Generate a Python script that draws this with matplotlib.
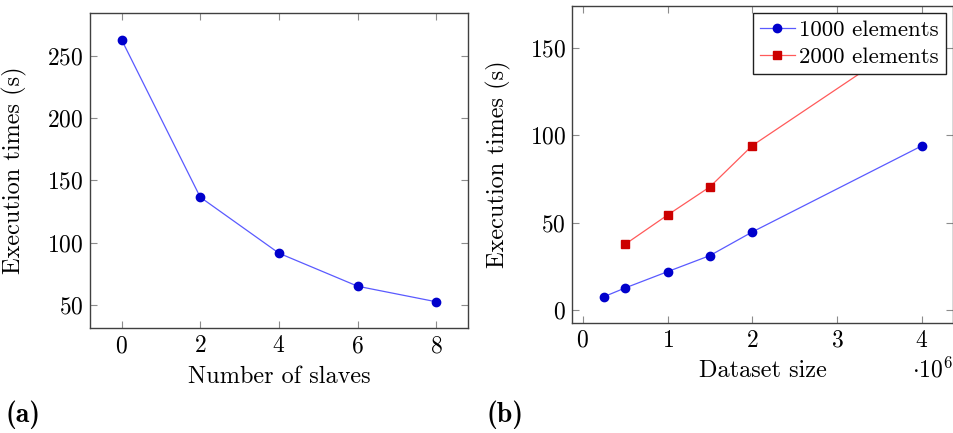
import numpy as np
import matplotlib.pyplot as plt

# Data
##############################
slaves = [0, 2, 4, 6, 8]
times_slaves = [263, 136.5, 91.5, 65, 52.5]

size_1000 = [0.25e6, 0.5e6, 1e6, 1.5e6, 2e6, 4e6]
times_1000 = [7.6, 12.6, 21.9, 31.1, 44.6, 93.8]
size_2000 = [0.5e6, 1e6, 1.5e6, 2e6, 4e6]
times_2000 = [37.6, 54.3, 70.4, 94.0, 159]

plt.rcParams.update({'font.family': 'cmr10', 'mathtext.fontset': 'cm',
                     'axes.formatter.use_mathtext': True, 'font.size': 16.5})

fig = plt.figure(figsize=(9.54, 4.33), dpi=100)
W, H = 954, 433
ax1 = fig.add_axes([90 / W, (H - 328) / H, 378 / W, 315 / H])
ax2 = fig.add_axes([572.3 / W, (H - 322.7) / H, 381 / W, 316.7 / H])

for ax in (ax1, ax2):
    ax.tick_params(direction='in', top=True, right=True, length=4.8, width=0.8,
                   color='#8c8c8c', labelsize=17, pad=5)
    ax.tick_params(axis='y', pad=4.5)
    for s in ax.spines.values():
        s.set_color('#404040')
        s.set_linewidth(1.0)

# (a) number of slaves
ax1.plot(slaves, times_slaves, '-', color='#5a5aff', lw=0.9, zorder=2)
ax1.plot(slaves, times_slaves, 'o', color='#0000cc', ms=6, zorder=3)
ax1.set_xlim(-0.8, 8.8)
ax1.set_ylim(31.5, 284.3)
ax1.set_xticks([0, 2, 4, 6, 8])
ax1.set_yticks([50, 100, 150, 200, 250])
ax1.set_xlabel('Number of slaves', fontsize=17.5, labelpad=6)
ax1.set_ylabel('Execution times (s)', fontsize=17.5)
ax1.yaxis.set_label_coords(-0.166, 0.5)

# (b) dataset size
x1 = np.array(size_1000) / 1e6
x2 = np.array(size_2000) / 1e6
ax2.plot(x1, times_1000, '-', color='#5a5aff', lw=0.9, zorder=2)
ax2.plot(x1, times_1000, 'o', color='#0000cc', ms=6, zorder=3)
ax2.plot(x2, times_2000, '-', color='#ff5a5a', lw=0.9, zorder=2)
ax2.plot(x2, times_2000, 's', color='#cc0000', ms=5.6, zorder=3)
ax2.set_xlim(-0.125, 4.375)
ax2.set_ylim(-7.3, 173.9)
ax2.set_xticks([0, 1, 2, 3, 4])
ax2.set_yticks([0, 50, 100, 150])
ax2.set_xlabel('Dataset size', fontsize=17.5, labelpad=6)
ax2.set_ylabel('Execution times (s)', fontsize=17.5)
ax2.yaxis.set_label_coords(-0.16, 0.5)
ax2.text(1.0, -0.15, r'$\cdot10^6$', transform=ax2.transAxes, ha='right', va='center',
         fontsize=17)

h1, = ax2.plot([], [], '-o', color='#5a5aff', mfc='#0000cc', mec='#0000cc', ms=6, lw=0.9)
h2, = ax2.plot([], [], '-s', color='#ff5a5a', mfc='#cc0000', mec='#cc0000', ms=5.6, lw=0.9)
leg = ax2.legend([h1, h2], ['1000 elements', '2000 elements'], loc='upper right',
                 bbox_to_anchor=(0.98, 0.978), fontsize=16.5, frameon=True, fancybox=False,
                 framealpha=1, edgecolor='#202020', handlelength=1.5, handletextpad=0.2,
                 borderpad=0.3, labelspacing=0.3, borderaxespad=0)
leg.get_frame().set_linewidth(1.0)
leg.set_zorder(5)

fig.text(5 / W, 1 - 415 / H, '(a)', fontsize=20, family='cmb10', va='center')
fig.text(487 / W, 1 - 415 / H, '(b)', fontsize=20, family='cmb10', va='center')

plt.savefig('out.png', dpi=100)
